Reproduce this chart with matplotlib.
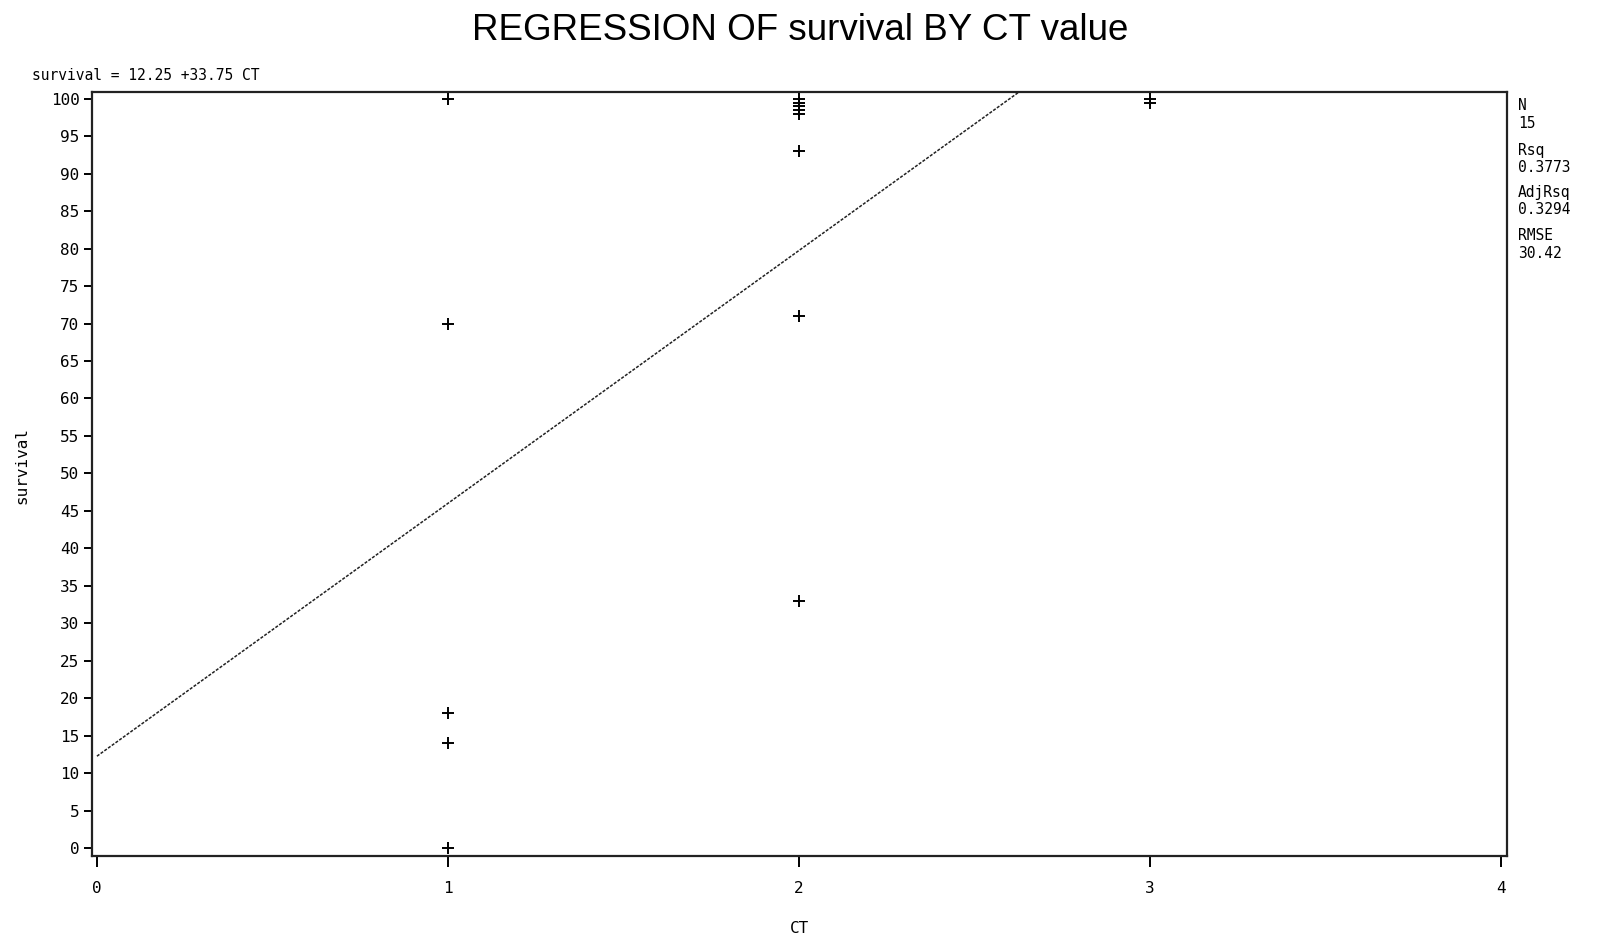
import numpy as np
import matplotlib
matplotlib.use("Agg")
import matplotlib.pyplot as plt

ct = [1, 1, 1, 1, 1,
      2, 2, 2, 2, 2, 2, 2, 2,
      3, 3]
survival = [100, 70, 18, 14, 0,
            100, 99.5, 99, 98.5, 98, 93, 71, 33,
            100, 99.5]
intercept, slope = 12.25, 33.75
stats_labels = ["N", "Rsq", "AdjRsq", "RMSE"]
stats_values = ["15", "0.3773", "0.3294", "30.42"]

MONO = "DejaVu Sans Mono"

fig = plt.figure(figsize=(16, 9.39), dpi=100)
ax = fig.add_axes([0.0575, 0.0884, 0.8844, 0.8136])

ax.plot(ct, survival, linestyle="none", marker="+", markersize=9,
        markeredgewidth=1.4, color="black", zorder=3)
xl = np.array([0, 4])
ax.plot(xl, intercept + slope * xl, color="#222222", lw=1.1,
        linestyle=(0, (2, 1)), zorder=2)

ax.set_xlim(-0.014, 4.017)
ax.set_ylim(-1.07, 100.9)
ax.set_xticks([0, 1, 2, 3, 4])
ax.set_yticks(np.arange(0, 101, 5))
for s in ax.spines.values():
    s.set_linewidth(1.6)
    s.set_color("#222222")
ax.tick_params(axis="y", direction="out", length=6, width=1.4, pad=3,
               labelsize=11.5)
ax.tick_params(axis="x", direction="out", length=8, width=1.4, pad=10,
               labelsize=11.5)
for lab in ax.get_xticklabels() + ax.get_yticklabels():
    lab.set_family(MONO)

ax.set_xlabel("CT", family=MONO, fontsize=11.5, labelpad=18)
fig.text(22 / 1600, 1 - 465 / 939, "survival", family=MONO, fontsize=11.5,
         rotation=90, ha="center", va="center")

fig.text(0.5, 1 - 30 / 939, "REGRESSION OF survival BY CT value",
         family="Liberation Sans", fontsize=26.5, ha="center", va="center")
fig.text(0.02, 1 - 75 / 939, f"survival = {intercept} +{slope} CT",
         family=MONO, fontsize=10.5, ha="left", va="center")

ys = [105, 150, 192, 235]
for lab, val, y in zip(stats_labels, stats_values, ys):
    fig.text(1518 / 1600, 1 - y / 939, lab, family=MONO, fontsize=10.5,
             ha="left", va="center")
    fig.text(1518 / 1600, 1 - (y + 18) / 939, val, family=MONO,
             fontsize=10.5, ha="left", va="center")

fig.savefig("out.png", dpi=100, facecolor="white")
